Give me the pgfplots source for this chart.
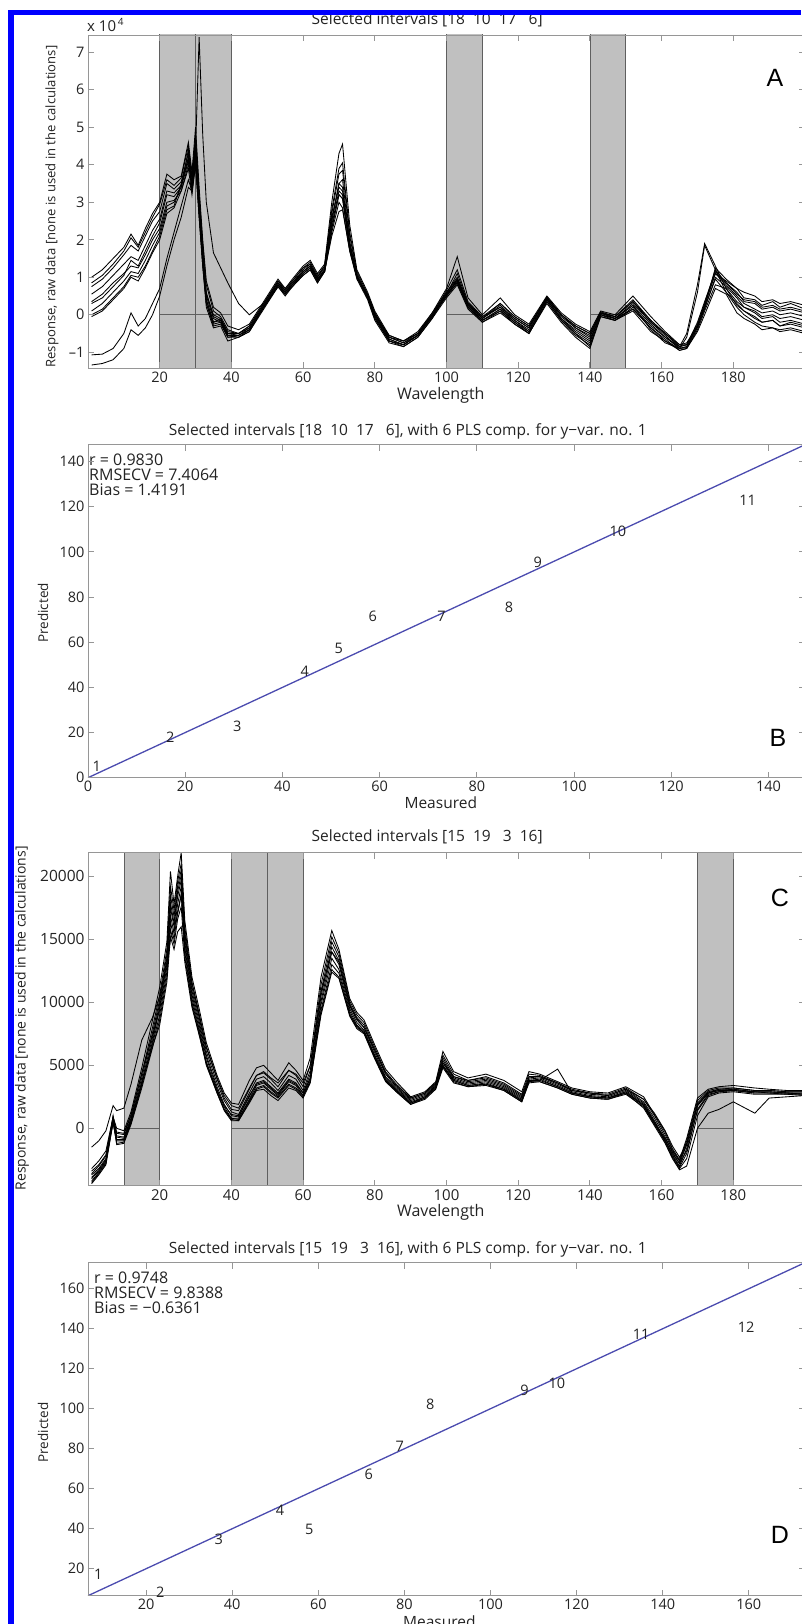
\documentclass[border=0pt]{standalone}
\usepackage{fontspec}
\setmainfont{Open Sans}
\newfontfamily\letterfont{Liberation Sans}
\usepackage{pgfplots}
\pgfplotsset{compat=1.18}
\usepackage{pgfplotstable}

\definecolor{axgray}{RGB}{150,150,150}
\definecolor{bargray}{RGB}{192,192,192}
\definecolor{baredge}{RGB}{95,95,95}
\definecolor{fitblue}{RGB}{75,75,175}
\definecolor{frameblue}{RGB}{0,0,255}
\definecolor{txt}{RGB}{35,35,35}

% Panel A spectra (response in units of 10^4)
\pgfplotstableread{
x c1 c2 c3 c4 c5 c6 c7 c8 c9 c10 c11
1 1.0 0.85 0.75 0.55 0.35 0.1 0.0 -0.05 -1.07 -1.34 0.3
4 1.2 1.05 0.95 0.75 0.55 0.3 0.15 0.1 -1.05 -1.3 0.45
7 1.5 1.35 1.25 1.05 0.85 0.6 0.45 0.4 -0.9 -1.2 0.75
10 1.8 1.7 1.6 1.35 1.1 0.9 0.75 0.7 -0.5 -0.9 1.05
12 2.15 2.05 1.85 1.55 1.3 1.15 1.05 1.0 0.05 -0.4 1.45
14 1.85 1.8 1.7 1.45 1.25 1.1 1.0 0.9 -0.3 -0.55 1.3
16 2.3 2.2 2.1 1.85 1.6 1.45 1.3 1.25 -0.1 -0.35 1.7
18 2.7 2.6 2.5 2.25 2.0 1.85 1.7 1.65 0.3 0.0 2.1
20 3.0 2.95 2.75 2.55 2.3 2.2 2.1 2.0 0.7 0.5 2.45
22 3.75 3.6 3.5 3.3 3.0 2.9 2.8 2.7 1.5 1.3 3.2
24 3.6 3.45 3.35 3.25 3.05 3.0 2.9 2.85 2.2 2.0 3.15
26 3.7 3.65 3.55 3.45 3.3 3.4 3.5 3.3 2.9 2.6 3.4
28 4.6 4.5 4.3 4.2 4.0 4.1 4.15 3.9 3.6 3.4 4.4
29 3.8 3.7 3.5 3.4 3.7 3.3 3.4 3.2 3.3 3.3 3.6
30 5.0 4.8 4.6 4.5 4.4 4.2 4.3 4.0 4.2 4.0 4.7
31 3.4 3.2 3.0 2.9 7.4 2.7 2.8 2.6 2.8 2.6 3.1
32 2.0 1.9 1.7 1.6 4.8 1.5 1.4 1.3 1.5 1.3 1.7
33 0.9 0.8 0.6 0.5 3.0 0.4 0.3 0.2 0.4 0.3 0.55
35 0.2 0.1 -0.05 -0.1 1.65 -0.2 -0.3 -0.35 -0.2 -0.25 0.0
37 0.05 -0.05 -0.15 -0.2 1.25 -0.1 -0.25 -0.3 -0.15 -0.2 -0.1
39 -0.3 -0.4 -0.5 -0.55 0.85 -0.5 -0.6 -0.7 -0.55 -0.6 -0.45
42 -0.4 -0.5 -0.55 -0.6 0.3 -0.5 -0.55 -0.6 -0.55 -0.6 -0.5
45 -0.25 -0.3 -0.35 -0.4 0.0 -0.35 -0.4 -0.45 -0.4 -0.45 -0.3
49 0.35 0.3 0.25 0.2 0.3 0.25 0.2 0.2 0.2 0.15 0.3
53 0.95 0.9 0.85 0.8 0.9 0.8 0.75 0.75 0.8 0.75 0.85
55 0.7 0.7 0.6 0.6 0.65 0.55 0.55 0.5 0.6 0.55 0.65
57 0.95 0.9 0.85 0.8 0.9 0.8 0.75 0.75 0.8 0.75 0.85
60 1.3 1.25 1.2 1.15 1.25 1.1 1.05 1.05 1.15 1.1 1.15
62 1.45 1.4 1.35 1.3 1.35 1.25 1.2 1.2 1.3 1.25 1.3
64 1.1 1.05 1.0 0.95 1.0 0.9 0.85 0.85 0.95 0.9 0.95
66 1.35 1.3 1.25 1.2 1.3 1.2 1.15 1.15 1.2 1.15 1.15
68 3.0 2.8 2.7 2.5 2.6 2.4 2.2 2.3 2.5 2.3 2.1
70 4.3 3.9 3.75 3.5 3.4 3.3 3.0 3.2 3.5 3.2 2.75
71 4.55 4.05 3.85 3.6 3.3 3.2 2.85 3.1 3.4 3.1 2.8
73 2.4 2.2 2.1 1.95 1.9 1.8 1.7 1.8 1.9 1.75 1.7
75 1.2 1.15 1.1 1.05 1.0 1.0 0.95 1.0 1.05 1.0 1.0
78 0.6 0.55 0.5 0.45 0.5 0.45 0.4 0.45 0.5 0.45 0.55
80 0.1 0.05 0.0 -0.05 0.0 -0.1 -0.15 -0.1 0.0 -0.05 0.05
84 -0.55 -0.6 -0.65 -0.7 -0.55 -0.7 -0.75 -0.7 -0.6 -0.65 -0.6
88 -0.7 -0.75 -0.8 -0.85 -0.7 -0.8 -0.85 -0.8 -0.75 -0.8 -0.7
92 -0.5 -0.55 -0.55 -0.6 -0.45 -0.55 -0.6 -0.55 -0.5 -0.55 -0.5
96 0.05 0.0 -0.05 -0.1 0.05 -0.05 -0.1 -0.05 0.0 -0.05 0.0
100 0.7 0.65 0.6 0.55 0.6 0.5 0.45 0.5 0.55 0.5 0.55
103 1.55 1.2 1.0 0.9 0.95 0.85 0.8 0.95 0.9 0.85 1.1
106 0.45 0.35 0.3 0.25 0.3 0.2 0.15 0.25 0.2 0.2 0.3
110 0.0 -0.05 -0.1 -0.15 -0.05 -0.15 -0.2 -0.1 -0.15 -0.2 -0.1
115 0.45 0.3 0.25 0.15 0.2 0.1 0.05 0.2 0.15 0.1 0.3
119 0.0 -0.05 -0.1 -0.15 -0.15 -0.2 -0.25 -0.1 -0.2 -0.25 -0.05
123 -0.25 -0.3 -0.35 -0.4 -0.45 -0.5 -0.5 -0.35 -0.45 -0.5 -0.3
128 0.5 0.48 0.45 0.42 0.4 0.35 0.3 0.45 0.4 0.35 0.45
132 0.05 0.0 -0.05 -0.1 -0.1 -0.15 -0.2 0.0 -0.1 -0.15 0.0
136 -0.25 -0.3 -0.35 -0.45 -0.5 -0.5 -0.6 -0.35 -0.4 -0.55 -0.3
140 -0.45 -0.5 -0.55 -0.7 -0.85 -0.75 -0.9 -0.6 -0.65 -0.8 -0.5
143 0.1 0.08 0.05 0.0 0.0 0.05 -0.05 0.05 0.0 -0.05 0.05
147 0.0 -0.05 -0.1 -0.15 -0.1 -0.1 -0.15 -0.05 -0.1 -0.15 -0.05
152 0.5 0.4 0.3 0.2 0.15 0.25 0.1 0.35 0.25 0.15 0.35
157 -0.05 -0.15 -0.2 -0.3 -0.35 -0.4 -0.45 -0.15 -0.25 -0.35 -0.2
161 -0.45 -0.5 -0.55 -0.6 -0.65 -0.75 -0.7 -0.5 -0.6 -0.7 -0.5
165 -0.8 -0.85 -0.9 -0.9 -0.95 -0.9 -0.95 -0.85 -0.85 -0.9 -0.8
167 -0.75 -0.8 -0.85 -0.88 -0.9 -0.85 -0.9 -0.8 -0.5 -0.6 -0.8
170 -0.3 -0.25 -0.3 -0.35 -0.4 -0.3 -0.45 -0.2 0.8 0.6 -0.3
172 0.2 0.3 0.25 0.15 0.1 0.2 0.0 0.35 1.9 1.85 0.3
175 1.25 1.2 1.1 1.0 0.8 0.95 0.7 1.15 1.3 1.2 1.1
178 0.95 0.85 0.8 0.75 0.7 0.6 0.55 0.85 0.7 0.6 0.9
181 0.7 0.55 0.5 0.45 0.25 0.2 0.05 0.6 0.35 0.3 0.7
183 0.6 0.4 0.3 0.2 0.1 0.0 -0.1 0.35 0.2 0.1 0.45
186 0.5 0.35 0.15 0.1 -0.1 -0.2 -0.25 0.3 0.05 -0.05 0.4
188 0.35 0.2 0.05 -0.05 -0.2 -0.3 -0.4 0.15 -0.1 -0.2 0.25
191 0.4 0.25 0.1 0.0 -0.15 -0.35 -0.35 0.2 -0.05 -0.15 0.35
193 0.3 0.15 0.0 -0.1 -0.3 -0.4 -0.45 0.1 -0.2 -0.3 0.2
196 0.35 0.2 0.05 -0.05 -0.25 -0.35 -0.4 0.15 -0.15 -0.2 0.3
200 0.25 0.1 -0.05 -0.15 -0.35 -0.45 -0.5 0.05 -0.25 -0.3 0.15
}\specA

% Panel C spectra (response in thousands)
\pgfplotstableread{
x c1 c2 c3 c4 c5 c6 c7 c8 c9 c10
1 -1.5 -3.2 -3.6 -3.9 -4.2 -4.4 -3.4 -4.0 -4.3 -3.7
3 -1.0 -2.6 -3.0 -3.3 -3.5 -3.7 -2.9 -3.4 -3.6 -3.2
5 -0.2 -1.8 -2.2 -2.5 -2.7 -2.9 -2.1 -2.6 -2.8 -2.4
7 1.8 0.9 0.6 0.8 1.0 0.5 0.9 0.4 0.7 0.6
8 1.4 0.0 -0.4 -0.6 -0.9 -1.2 -0.3 -1.0 -1.3 -0.7
10 1.6 -0.2 -0.5 -0.7 -0.9 -1.1 -0.4 -1.0 -1.2 -0.8
12 3.5 1.3 1.0 0.8 0.6 0.4 1.1 0.5 0.3 0.7
15 7.0 4.8 4.3 4.0 3.7 3.4 4.4 3.5 3.2 3.6
18 8.8 8.6 8.0 7.6 7.2 6.9 7.4 6.7 6.4 6.5
20 10.5 11.2 10.6 10.2 9.9 9.6 9.4 9.0 8.6 8.2
22 13.0 14.8 14.2 13.8 13.5 13.2 12.8 12.4 12.0 11.6
23 15.0 20.4 19.2 18.5 17.9 17.5 16.9 16.4 15.8 15.2
24 15.8 17.8 17.3 16.8 16.3 16.0 15.5 15.0 14.6 14.2
25 17.0 20.0 19.6 19.2 18.8 18.4 17.8 17.2 16.6 15.6
26 18.5 21.9 21.0 20.5 20.1 19.7 19.2 18.6 17.6 16.0
27 15.5 16.5 16.0 15.5 15.1 14.8 14.4 14.0 13.6 13.2
29 11.5 12.0 11.6 11.2 10.9 10.6 10.3 10.0 9.8 9.6
31 9.0 9.5 9.1 8.8 8.5 8.2 7.9 7.7 7.5 7.4
33 6.5 6.8 6.4 6.1 5.8 5.6 5.3 5.1 5.0 5.2
36 4.0 4.2 3.9 3.6 3.3 3.1 2.9 2.8 2.8 3.0
38 2.6 2.8 2.4 2.2 1.9 1.7 1.5 1.4 1.5 1.8
40 1.8 2.0 1.5 1.3 1.0 0.8 0.7 0.6 0.8 1.1
42 1.6 1.9 1.4 1.1 0.9 0.7 0.6 0.6 0.8 1.0
45 3.2 3.8 3.1 2.8 2.5 2.3 2.1 2.0 2.2 2.6
47 4.2 4.8 4.2 3.9 3.6 3.4 3.1 3.0 3.2 3.5
49 4.5 5.0 4.4 4.1 3.8 3.6 3.3 3.1 3.4 3.7
51 4.0 4.4 3.9 3.6 3.3 3.1 2.8 2.6 2.9 3.2
53 3.6 3.8 3.3 3.0 2.8 2.6 2.4 2.2 2.5 2.7
56 4.6 5.2 4.6 4.2 3.9 3.7 3.4 3.2 3.5 3.8
58 4.3 4.6 4.2 3.9 3.6 3.4 3.1 3.0 3.2 3.5
60 3.6 3.8 3.3 3.0 2.8 2.6 2.5 2.4 2.6 2.8
62 5.0 5.6 5.0 4.6 4.3 4.0 3.8 3.6 3.7 4.0
65 10.8 12.0 11.4 10.9 10.5 10.1 9.8 9.4 9.0 9.2
68 14.0 15.7 15.2 14.8 14.4 14.0 13.5 13.0 12.4 12.6
70 13.2 14.2 13.9 13.6 13.3 13.0 12.6 12.3 11.9 12.0
73 9.8 10.3 10.1 9.9 9.7 9.5 9.3 9.1 8.9 9.0
75 8.7 9.2 9.0 8.8 8.6 8.4 8.2 8.1 7.9 8.0
77 8.0 8.6 8.4 8.2 8.0 7.8 7.7 7.6 7.5 7.6
80 6.2 6.6 6.4 6.2 6.0 5.8 5.7 5.6 5.5 5.6
83 4.4 4.7 4.5 4.3 4.1 4.0 3.9 3.8 3.7 3.8
86 3.4 3.7 3.5 3.3 3.2 3.1 3.0 2.9 2.9 3.0
90 2.4 2.5 2.4 2.3 2.2 2.1 2.0 1.9 1.9 2.0
94 2.8 2.9 2.8 2.7 2.6 2.5 2.4 2.4 2.3 2.5
97 3.6 3.7 3.6 3.5 3.4 3.3 3.2 3.2 3.1 3.3
99 5.2 6.1 5.8 5.6 5.4 5.2 5.0 4.9 4.8 5.0
102 4.1 4.5 4.3 4.1 4.0 3.9 3.8 3.7 3.6 3.8
106 3.8 4.0 3.8 3.7 3.6 3.5 3.4 3.3 3.3 3.4
111 4.0 4.3 4.1 3.9 3.8 3.7 3.6 3.5 3.4 3.5
116 3.5 3.8 3.6 3.4 3.3 3.2 3.1 3.0 3.0 3.1
121 2.6 2.9 2.7 2.5 2.4 2.3 2.2 2.1 2.1 2.2
123 4.0 4.5 4.3 4.1 3.9 3.8 3.7 3.7 3.6 3.8
126 4.1 4.3 4.2 4.1 4.0 3.9 3.8 3.7 3.7 3.8
131 3.6 3.7 3.6 3.5 3.4 3.3 4.7 3.2 3.2 3.3
135 3.0 3.2 3.1 3.0 2.9 2.8 2.8 2.7 2.7 2.8
140 2.8 2.9 2.8 2.7 2.6 2.5 2.5 2.4 2.4 2.5
145 2.6 2.8 2.7 2.6 2.5 2.4 2.4 2.3 2.3 2.4
150 3.1 3.3 3.2 3.1 3.0 2.9 2.8 2.8 2.7 2.9
155 2.3 2.5 2.3 2.1 2.0 1.9 1.8 1.6 1.7 1.8
158 1.2 1.1 1.0 0.8 0.6 0.5 0.4 0.2 0.3 0.4
161 -0.2 -0.3 -0.5 -0.7 -0.9 -1.0 -1.1 -1.2 -1.0 -0.8
163 -1.4 -1.6 -1.7 -1.9 -2.1 -2.2 -2.3 -2.4 -2.0 -1.8
165 -2.3 -2.5 -2.6 -2.8 -3.0 -3.1 -3.2 -3.3 -2.8 -2.6
167 -1.2 -0.8 -1.0 -1.3 -1.6 -2.0 -2.4 -3.0 -1.8 -1.3
170 1.8 2.4 2.2 2.0 1.8 1.5 1.0 0.0 1.4 1.9
173 2.8 3.1 3.0 2.9 2.8 2.7 2.5 1.2 2.6 2.8
176 3.1 3.3 3.2 3.1 3.0 2.9 2.8 1.5 2.9 3.0
180 3.2 3.4 3.2 3.1 3.0 3.0 2.9 2.1 3.0 3.1
186 3.0 3.2 3.0 2.9 2.9 2.8 2.7 1.2 2.8 2.9
190 3.0 3.1 3.0 2.9 2.8 2.8 2.7 2.4 2.8 2.9
195 2.9 3.0 2.9 2.8 2.8 2.7 2.7 2.5 2.8 2.8
200 2.9 3.0 2.9 2.8 2.7 2.7 2.6 2.6 2.7 2.8
}\specC

\pgfplotsset{
  panel/.style={
    scale only axis, width=717pt, height=333pt, anchor=south west,
    axis on top,
    axis line style={draw=axgray, line width=0.9pt},
    every tick/.style={draw=axgray, line width=0.9pt},
    tick align=inside, major tick length=6pt,
    tick label style={font=\fontsize{14.5}{16}\selectfont, text=txt},
    yticklabel style={anchor=east},
    title style={font=\fontsize{15.5}{17}\selectfont, text=txt, anchor=center},
    label style={font=\fontsize{14}{16}\selectfont, text=txt},
    xlabel style={anchor=center},
    ylabel style={anchor=center, rotate=0},
  },
  spec/.style={black, line width=0.85pt, no marks},
  bar/.style={fill=bargray, draw=baredge, line width=0.7pt},
  fit/.style={fitblue, line width=1.3pt, no marks},
  lbl/.style={draw=none, no marks, nodes near coords, point meta=explicit symbolic,
    every node near coord/.append style={anchor=center, font=\fontsize{14.5}{16}\selectfont, text=txt, inner sep=0pt}},
}

\begin{document}
\begin{tikzpicture}
% ---------- Panel A ----------
\begin{axis}[panel, at={(88pt,-368pt)},
  xmin=0, xmax=200, ymin=-1.42, ymax=7.46,
  xtick={20,40,...,180}, xticklabels={20,40,60,80,100,120,140,160,180},
  ytick={-1,0,1,2,3,4,5,6,7}, yticklabels={{–1},0,1,2,3,4,5,6,7},
  title={Selected intervals [18\ \ 10\ \ 17\ \ \ 6]},
  title style={at={(axis description cs:0.473,1)}, yshift=9pt},
  xlabel={Wavelength}, xlabel style={at={(axis description cs:0.492,-0.0813)}, font=\fontsize{16}{18}\selectfont},
  ylabel={Response, raw data [none is used in the calculations]},
  ylabel style={at={(axis description cs:-0.0502,0.485)}, font=\fontsize{13.1}{15}\selectfont},
]
\addplot[bar] coordinates {(20,-2) (30,-2) (30,0) (20,0)} -- cycle;
\addplot[bar] coordinates {(20,0) (30,0) (30,8) (20,8)} -- cycle;
\addplot[bar] coordinates {(30,-2) (40,-2) (40,0) (30,0)} -- cycle;
\addplot[bar] coordinates {(30,0) (40,0) (40,8) (30,8)} -- cycle;
\addplot[bar] coordinates {(100,-2) (110,-2) (110,0) (100,0)} -- cycle;
\addplot[bar] coordinates {(100,0) (110,0) (110,8) (100,8)} -- cycle;
\addplot[bar] coordinates {(140,-2) (150,-2) (150,0) (140,0)} -- cycle;
\addplot[bar] coordinates {(140,0) (150,0) (150,8) (140,8)} -- cycle;
\pgfplotsinvokeforeach{c1,c2,c3,c4,c5,c6,c7,c8,c9,c10,c11}{
  \addplot[spec] table[x=x, y=#1] {\specA};
}
\end{axis}
% exponent label of panel A
\node[anchor=base west, font=\fontsize{15}{17}\selectfont, text=txt, inner sep=0pt]
  at (87pt,-32pt) {x 10\raisebox{6pt}{\fontsize{10}{10}\selectfont\,4}};

% ---------- Panel B ----------
\begin{axis}[panel, at={(88pt,-777.7pt)},
  xmin=0, xmax=147.5, ymin=0, ymax=147.5,
  xtick={0,20,...,140}, xticklabels={0,20,40,60,80,100,120,140},
  ytick={0,20,...,140}, yticklabels={0,20,40,60,80,100,120,140},
  title={Selected intervals [18\ \ 10\ \ 17\ \ \ 6], with 6 PLS comp. for y−var. no. 1},
  title style={at={(axis description cs:0.446,1)}, yshift=7pt},
  xlabel={Measured}, xlabel style={at={(axis description cs:0.492,-0.0758)}, font=\fontsize{15.5}{17}\selectfont},
  ylabel={Predicted}, ylabel style={at={(axis description cs:-0.0628,0.495)}, font=\fontsize{13.5}{15}\selectfont},
]
\addplot[fit] coordinates {(0,0) (147.5,147.5)};
\addplot[lbl] coordinates {
(1.8,4.9) [1] (16.9,17.9) [2] (30.7,22.6) [3] (44.6,47.0) [4] (51.6,57.3) [5]
(58.6,71.3) [6] (72.7,71.3) [7] (86.6,75.3) [8] (92.5,95.4) [9] (109.0,109.3) [10]
(135.7,122.7) [11]};
\node[anchor=north west, align=left, font=\fontsize{16}{15}\selectfont, text=txt, inner sep=0pt]
  at (rel axis cs:0,1) [yshift=-9pt, xshift=1pt] {r = 0.9830\\RMSECV = 7.4064\\Bias = 1.4191};
\end{axis}

% ---------- Panel C ----------
\begin{axis}[panel, at={(88pt,-1185.7pt)},
  xmin=0, xmax=200, ymin=-4.56, ymax=21.88,
  xtick={20,40,...,180}, xticklabels={20,40,60,80,100,120,140,160,180},
  ytick={0,5,10,15,20}, yticklabels={0,5000,10000,15000,20000},
  yticklabel style={font=\fontsize{15.5}{17}\selectfont},
  xticklabel style={font=\fontsize{15}{17}\selectfont},
  title={Selected intervals [15\ \ 19\ \ \ 3\ \ 16]},
  title style={at={(axis description cs:0.473,1)}, yshift=10pt},
  xlabel={Wavelength}, xlabel style={at={(axis description cs:0.492,-0.079)}, font=\fontsize{16}{18}\selectfont},
  ylabel={Response, raw data [none is used in the calculations]},
  ylabel style={at={(axis description cs:-0.092,0.5025)}, font=\fontsize{14}{16}\selectfont},
]
\addplot[bar] coordinates {(10,-5) (20,-5) (20,0) (10,0)} -- cycle;
\addplot[bar] coordinates {(10,0) (20,0) (20,23) (10,23)} -- cycle;
\addplot[bar] coordinates {(40,-5) (50,-5) (50,0) (40,0)} -- cycle;
\addplot[bar] coordinates {(40,0) (50,0) (50,23) (40,23)} -- cycle;
\addplot[bar] coordinates {(50,-5) (60,-5) (60,0) (50,0)} -- cycle;
\addplot[bar] coordinates {(50,0) (60,0) (60,23) (50,23)} -- cycle;
\addplot[bar] coordinates {(170,-5) (180,-5) (180,0) (170,0)} -- cycle;
\addplot[bar] coordinates {(170,0) (180,0) (180,23) (170,23)} -- cycle;
\pgfplotsinvokeforeach{c1,c2,c3,c4,c5,c6,c7,c8,c9,c10}{
  \addplot[spec] table[x=x, y=#1] {\specC};
}
\end{axis}

% ---------- Panel D ----------
\begin{axis}[panel, at={(88pt,-1595.7pt)},
  xmin=6.5, xmax=173.05, ymin=6.5, ymax=173,
  xtick={20,40,...,160}, xticklabels={20,40,60,80,100,120,140,160},
  ytick={20,40,...,160}, yticklabels={20,40,60,80,100,120,140,160},
  title={Selected intervals [15\ \ 19\ \ \ 3\ \ 16], with 6 PLS comp. for y−var. no. 1},
  title style={at={(axis description cs:0.446,1)}, yshift=7pt},
  xlabel={Measured}, xlabel style={at={(axis description cs:0.49,-0.079)}, font=\fontsize{15.5}{17}\selectfont},
  ylabel={Predicted}, ylabel style={at={(axis description cs:-0.0628,0.49)}, font=\fontsize{13.5}{15}\selectfont},
]
\addplot[fit] coordinates {(6.5,6.5) (173,173)};
\addplot[lbl] coordinates {
(8.9,17.0) [1] (23.3,8.2) [2] (36.9,34.8) [3] (51.1,49.0) [4] (57.9,39.8) [5]
(71.7,67.0) [6] (78.9,81.2) [7] (86.0,102.3) [8] (107.9,109.0) [9] (115.4,112.8) [10]
(135.0,137.0) [11] (159.4,140.8) [12]};
\node[anchor=north west, align=left, font=\fontsize{16}{15}\selectfont, text=txt, inner sep=0pt]
  at (rel axis cs:0,1) [yshift=-9pt, xshift=6pt] {r = 0.9748\\RMSECV = 9.8388\\Bias = −0.6361};
\end{axis}

% panel letters
\node[font=\letterfont\fontsize{25}{25}\selectfont] at (775pt,-78pt) {A};
\node[font=\letterfont\fontsize{25}{25}\selectfont] at (778pt,-738pt) {B};
\node[font=\letterfont\fontsize{25}{25}\selectfont] at (780pt,-898pt) {C};
\node[font=\letterfont\fontsize{25}{25}\selectfont] at (780pt,-1535pt) {D};

% blue frame (top and left)
\fill[frameblue] (8pt,-10pt) rectangle (801pt,-15pt);
\fill[frameblue] (8pt,-10pt) rectangle (14pt,-1624pt);

\pgfresetboundingbox
\path[use as bounding box] (0pt,0pt) rectangle (801pt,-1624pt);
\end{tikzpicture}
\end{document}
